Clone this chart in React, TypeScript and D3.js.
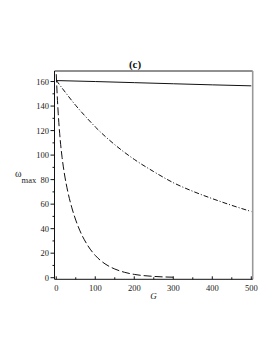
import * as d3 from 'd3';
import React from 'react';

// G values and omega_max for the three curves
const gSolid = [0, 100, 200, 300, 400, 500];
const wSolid = [160.8, 160.0, 159.1, 158.2, 157.3, 156.5];

const gDashDot = [0, 25, 50, 75, 100, 150, 200, 250, 300, 350, 400, 450, 500];
const wDashDot = [161, 150.5, 140.5, 131.5, 123, 108.5, 96.5, 86.5, 77.5, 70.5, 64.5, 59, 54];

const gDashed = [0, 2, 5, 10, 15, 20, 30, 40, 50, 60, 80, 100, 125, 150, 175, 200, 250, 300];
const wDashed = [166, 151.5, 134.2, 113, 98, 86.6, 69.6, 57, 47, 38.8, 26.6, 18.2, 11.3, 7.1, 4.4, 2.7, 1.06, 0.4];

const xTicks = [0, 100, 200, 300, 400, 500];
const xMinor = [50, 150, 250, 350, 450];
const yTicks = [0, 20, 40, 60, 80, 100, 120, 140, 160];
const yMinor = [10, 30, 50, 70, 90, 110, 130, 150];

const font = '"Liberation Serif", "DejaVu Serif", serif';

export default function App() {
  const x = d3.scaleLinear().domain([-4.5, 503.6]).range([54.5, 252.7]);
  const y = d3.scaleLinear().domain([-1.3, 168.6]).range([279.3, 71]);
  const [x0, x1] = x.range();
  const [yb, yt] = y.range();

  const line = (gs: number[], ws: number[]) =>
    d3
      .line<number>()
      .x((_, i) => x(gs[i]))
      .y((_, i) => y(ws[i]))
      .curve(d3.curveMonotoneX)(ws) || '';

  return (
    <svg
      width={277}
      height={358}
      style={{ position: 'absolute', left: 0, top: 0, background: '#fff' }}
    >
      <defs>
        <clipPath id="plot">
          <rect x={x0} y={yt} width={x1 - x0} height={yb - yt} />
        </clipPath>
      </defs>

      <text x={135} y={68} textAnchor="middle" fontFamily={font} fontSize={11} fontWeight="bold" fill="#111">
        (c)
      </text>

      {/* frame */}
      <line x1={x0} x2={x1} y1={yt} y2={yt} stroke="#222" strokeWidth={1} />
      <line x1={x1} x2={x1} y1={yt} y2={yb} stroke="#999" strokeWidth={1.6} />
      <line x1={x0} x2={x0} y1={yt} y2={yb} stroke="#111" strokeWidth={1} />
      <line x1={x0} x2={x1} y1={yb} y2={yb} stroke="#111" strokeWidth={1} />

      {/* y axis */}
      {yTicks.map((t) => (
        <g key={'y' + t}>
          <line x1={x0 - 4} x2={x0} y1={y(t)} y2={y(t)} stroke="#111" />
          <text x={49} y={y(t) + 3} textAnchor="end" fontFamily={font} fontSize={8.5} fill="#222">
            {t}
          </text>
        </g>
      ))}
      {yMinor.map((t) => (
        <line key={'ym' + t} x1={x0 - 2} x2={x0} y1={y(t)} y2={y(t)} stroke="#111" />
      ))}

      {/* x axis */}
      {xTicks.map((t) => (
        <g key={'x' + t}>
          <line x1={x(t)} x2={x(t)} y1={yb} y2={yb - 3} stroke="#111" />
          <text x={x(t)} y={290.5} textAnchor="middle" fontFamily={font} fontSize={8.5} fill="#222">
            {t}
          </text>
        </g>
      ))}
      {xMinor.map((t) => (
        <line key={'xm' + t} x1={x(t)} x2={x(t)} y1={yb} y2={yb - 2} stroke="#111" />
      ))}

      <text x={153.5} y={299} textAnchor="middle" fontFamily={font} fontSize={9} fontStyle="italic" fill="#222">
        G
      </text>
      <text x={15} y={177} fontFamily={font} fontSize={10} fill="#222">
        ω
        <tspan dx={0} dy={6} fontSize={8.5}>
          max
        </tspan>
      </text>

      <g clipPath="url(#plot)" fill="none" stroke="#111" strokeWidth={1}>
        <path d={line(gSolid, wSolid)} />
        <path d={line(gDashDot, wDashDot)} strokeDasharray="5 2 1 2" />
        <path d={line(gDashed, wDashed)} strokeDasharray="8 3" />
      </g>
    </svg>
  );
}
